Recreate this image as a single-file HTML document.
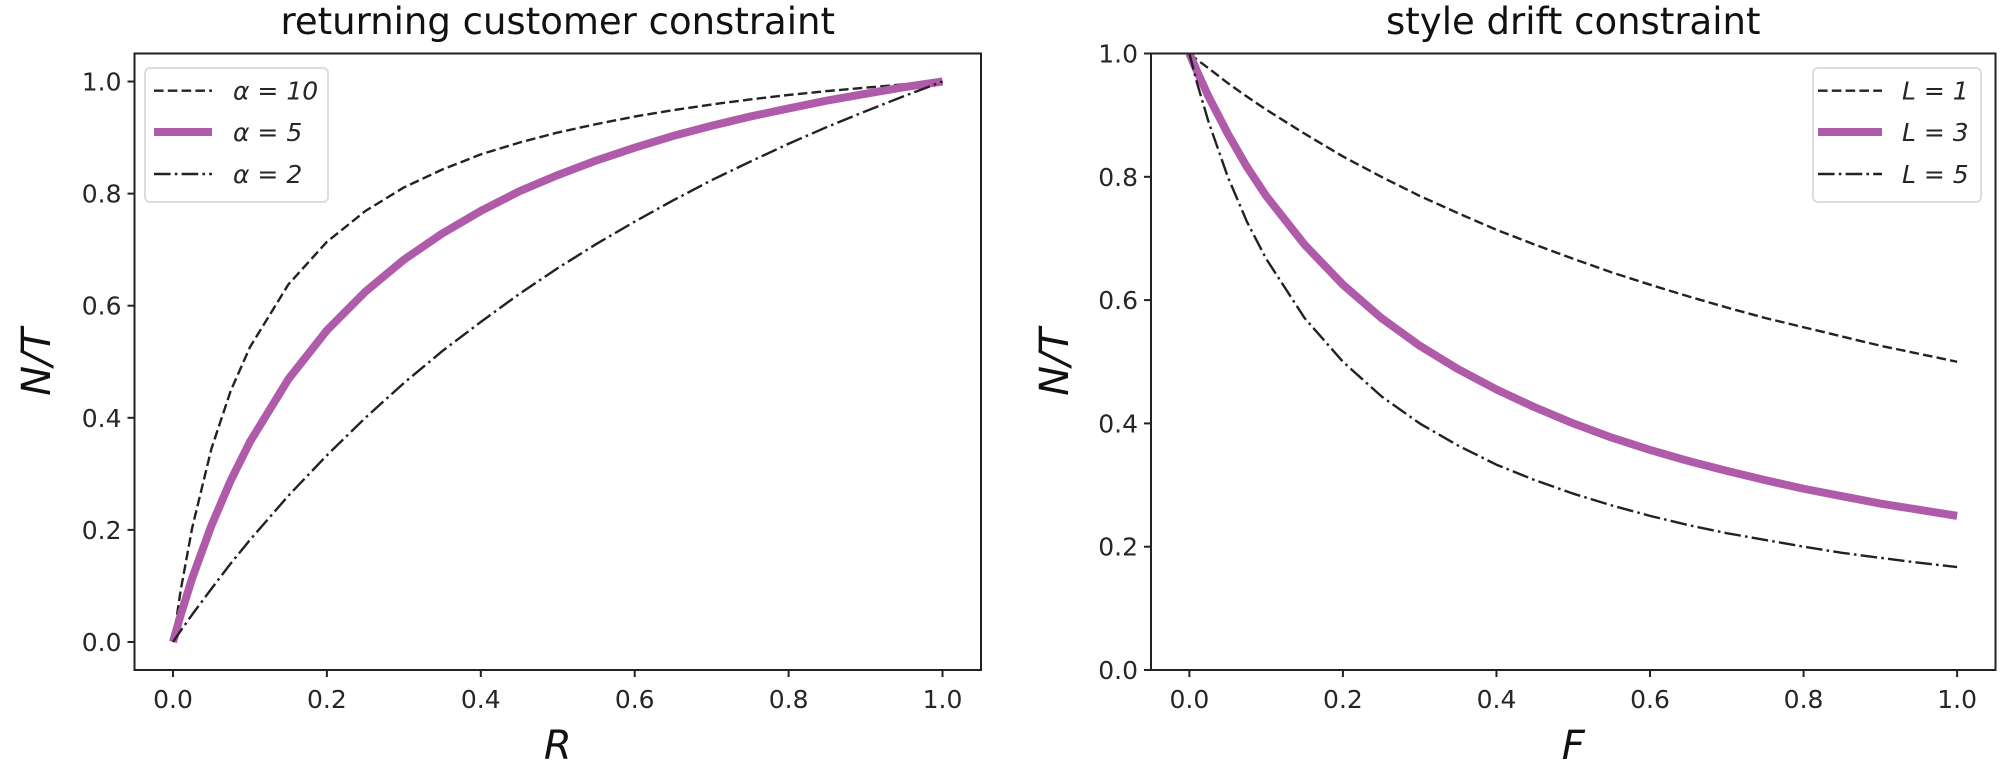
<!DOCTYPE html>
<html><head><meta charset="utf-8"><style>
html,body{margin:0;padding:0;background:#fff;}
svg{display:block;font-family:"DejaVu Sans","Liberation Sans",sans-serif;}
</style></head><body>
<svg id="fig" width="2006" height="776" viewBox="0 0 2006 776" xmlns="http://www.w3.org/2000/svg"></svg>
<script>
const xs = [0,0.01,0.025,0.05,0.075,0.1,0.15,0.2,0.25,0.3,0.35,0.4,0.45,0.5,0.55,0.6,0.65,0.7,0.75,0.8,0.85,0.9,0.95,1];
const alpha10 = [0,0.092,0.204,0.345,0.448,0.526,0.638,0.714,0.769,0.811,0.843,0.870,0.891,0.909,0.924,0.9375,0.949,0.959,0.968,0.976,0.983,0.989,0.995,1];
const alpha5 = [0,0.048,0.114,0.208,0.288,0.357,0.469,0.556,0.625,0.682,0.729,0.769,0.804,0.833,0.859,0.882,0.903,0.921,0.9375,0.952,0.966,0.978,0.990,1];
const alpha2 = [0,0.020,0.049,0.095,0.140,0.182,0.261,0.333,0.4,0.462,0.519,0.571,0.621,0.667,0.710,0.75,0.788,0.824,0.857,0.889,0.919,0.947,0.974,1];
const L1 = [1,0.990,0.976,0.952,0.930,0.909,0.870,0.833,0.800,0.769,0.741,0.714,0.690,0.667,0.645,0.625,0.606,0.588,0.571,0.556,0.541,0.526,0.513,0.500];
const L3 = [1,0.971,0.930,0.870,0.816,0.769,0.690,0.625,0.571,0.526,0.488,0.455,0.426,0.4,0.377,0.357,0.339,0.323,0.308,0.294,0.282,0.270,0.260,0.25];
const L5 = [1,0.952,0.889,0.8,0.727,0.667,0.571,0.5,0.444,0.4,0.364,0.333,0.308,0.286,0.267,0.25,0.235,0.222,0.211,0.2,0.190,0.182,0.174,0.167];
const xTicks = [0,0.2,0.4,0.6,0.8,1.0];
const yTicks = [0,0.2,0.4,0.6,0.8,1.0];
const leftLegend = ["α = 10","α = 5","α = 2"];
const rightLegend = ["L = 1","L = 3","L = 5"];

const NS="http://www.w3.org/2000/svg";
const svg=document.getElementById('fig');
function mk(tag,attrs,parent,name){const e=document.createElementNS(NS,tag);for(const k in attrs)e.setAttribute(k,attrs[k]);


(parent||svg).appendChild(e);return e;}
const PURPLE="#b05ba9";
const styles=[
 {stroke:"#222",w:2.4,dash:"9.6 4.2"},
 {stroke:PURPLE,w:8,dash:""},
 {stroke:"#222",w:2.4,dash:"16.6 4.2 2.6 4.2"}];

function panel(o){
  const g=mk('g',{},svg,o.name);
  const sx=v=>o.x0+(v-o.xmin)/(o.xmax-o.xmin)*(o.x1-o.x0);
  const sy=v=>o.y1-(v-o.ymin)/(o.ymax-o.ymin)*(o.y1-o.y0);
  const clipId=o.name+'-clip';
  const cp=mk('clipPath',{id:clipId},g,'clip');
  mk('rect',{x:o.x0,y:o.y0,width:o.x1-o.x0,height:o.y1-o.y0},cp,'clip-rect');
  const order=[0,1,2];
  order.forEach(i=>{
    const ys=o.series[i];
    const d=xs.map((x,j)=>(j?'L':'M')+sx(x).toFixed(2)+','+sy(ys[j]).toFixed(2)).join(' ');
    const a={d:d,fill:'none',stroke:styles[i].stroke,'stroke-width':styles[i].w,'stroke-linejoin':'round','clip-path':'url(#'+clipId+')'};
    if(styles[i].dash)a['stroke-dasharray']=styles[i].dash;
    mk('path',a,g,o.seriesNames[i]);
  });
  mk('rect',{x:o.x0,y:o.y0,width:o.x1-o.x0,height:o.y1-o.y0,fill:'none',stroke:'#222','stroke-width':2},g,'axes-frame');
  xTicks.forEach(t=>{const x=sx(t);
    mk('line',{x1:x,x2:x,y1:o.y1,y2:o.y1+7,stroke:'#222','stroke-width':2},g,'x-tick');
    const tx=mk('text',{x:x,y:o.y1+38,'font-size':25,'text-anchor':'middle',fill:'#262626'},g,'x-tick-label');tx.textContent=t.toFixed(1);});
  yTicks.forEach(t=>{const y=sy(t);
    mk('line',{x1:o.x0-7,x2:o.x0,y1:y,y2:y,stroke:'#222','stroke-width':2},g,'y-tick');
    const tx=mk('text',{x:o.x0-13,y:y+9,'font-size':25,'text-anchor':'end',fill:'#262626'},g,'y-tick-label');tx.textContent=t.toFixed(1);});
  const ti=mk('text',{x:(o.x0+o.x1)/2,y:34,'font-size':37,'text-anchor':'middle',fill:'#111'},g,'chart-title');ti.textContent=o.title;
  const xl=mk('text',{x:(o.x0+o.x1)/2,y:759,'font-size':40,'font-style':'italic','text-anchor':'middle',fill:'#111'},g,'x-axis-title');xl.textContent=o.xlabel;
  const yl=mk('text',{x:0,y:0,'font-size':40,'font-style':'italic','text-anchor':'middle',fill:'#111',transform:'translate('+o.ylx+',362) rotate(-90)'},g,'y-axis-title');yl.textContent='N/T';
  // legend
  const lg=mk('g',{},g,'legend');
  mk('rect',{x:o.lx,y:68,width:o.lw,height:134,rx:5,fill:'#fff','fill-opacity':0.8,stroke:'#ddd','stroke-width':2},lg,'legend-box');
  const rows=[90.7,132,174];
  o.legend.forEach((lab,i)=>{
    const a={x1:o.hx0,x2:o.hx1,y1:rows[i],y2:rows[i],stroke:styles[i].stroke,'stroke-width':styles[i].w};
    if(styles[i].dash)a['stroke-dasharray']=styles[i].dash;
    mk('line',a,lg,'legend-handle');
    const t=mk('text',{x:o.tx,y:rows[i]+9,'font-size':25,fill:'#262626','font-style':'italic'},lg,'legend-entry');t.textContent=lab;
  });
}
panel({name:'returning-customer-panel',x0:134.5,x1:981,y0:53.5,y1:670,xmin:-0.05,xmax:1.05,ymin:-0.05,ymax:1.05,
 series:[alpha10,alpha5,alpha2],seriesNames:['alpha-10-line','alpha-5-line','alpha-2-line'],
 title:'returning customer constraint',xlabel:'R',ylx:50,legend:leftLegend,lx:145,lw:183,hx0:154,hx1:212,tx:233});
panel({name:'style-drift-panel',x0:1151,x1:1995.5,y0:53.5,y1:670,xmin:-0.05,xmax:1.05,ymin:0,ymax:1,
 series:[L1,L3,L5],seriesNames:['L-1-line','L-3-line','L-5-line'],
 title:'style drift constraint',xlabel:'F',ylx:1068,legend:rightLegend,lx:1813,lw:168,hx0:1818,hx1:1882,tx:1902});
</script>
</body></html>
